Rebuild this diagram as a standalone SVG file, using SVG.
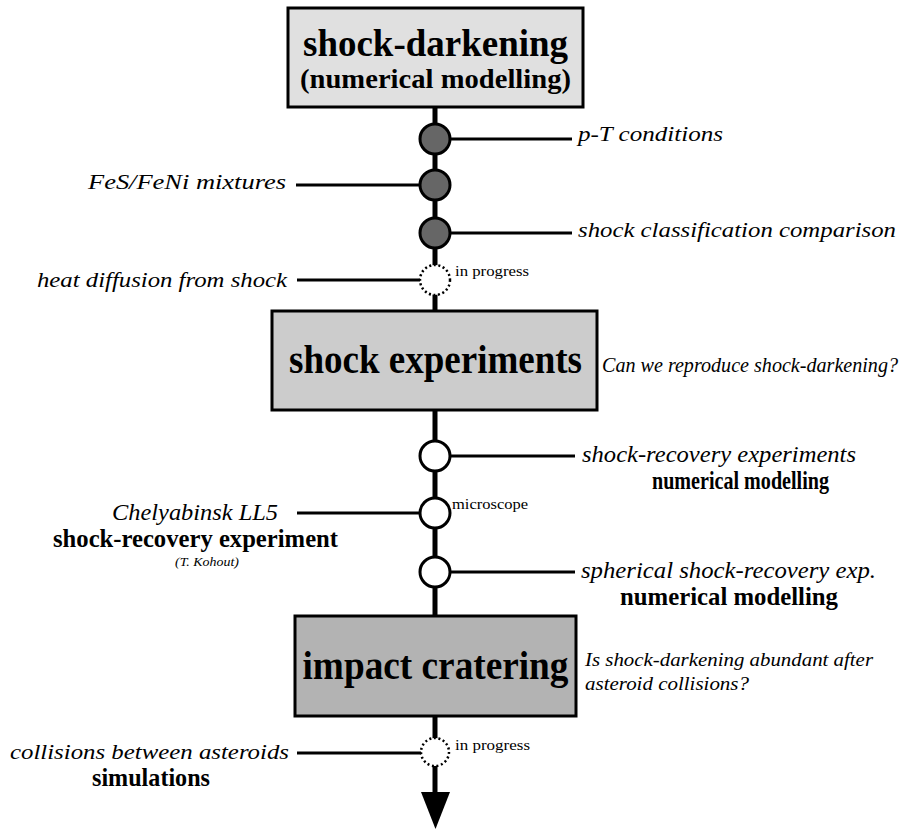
<svg xmlns="http://www.w3.org/2000/svg" width="907" height="830" viewBox="0 0 907 830">
<style>
.box{stroke:#000;stroke-width:3}
.spine{stroke:#000;stroke-width:5;fill:none}
.br{stroke:#000;stroke-width:3;fill:none}
.done{fill:#666;stroke:#000;stroke-width:3}
.open{fill:#fff;stroke:#000;stroke-width:3}
.prog{fill:#fff;stroke:#000;stroke-width:2.5;stroke-dasharray:2 2.6}
text{font-family:"Liberation Serif","Times New Roman",serif;fill:#000}
.t{font-weight:bold;text-anchor:middle}
.it{font-style:italic;font-size:22px}
.b{font-weight:bold;font-size:26px}
.q{font-style:italic;font-size:21px}
.s{font-size:14px}
</style>
<rect width="907" height="830" fill="#fff"/>
<g id="connectors">
<line class="spine" x1="435" y1="107" x2="435" y2="311"/>
<line class="spine" x1="435" y1="410" x2="435" y2="616"/>
<line class="spine" x1="435" y1="716" x2="435" y2="795"/>
<polygon points="421,792 450,792 435.5,829" fill="#000"/>
<line class="br" x1="450" y1="139" x2="572" y2="139"/>
<line class="br" x1="296" y1="185" x2="420" y2="185"/>
<line class="br" x1="450" y1="233" x2="572" y2="233"/>
<line class="br" x1="297" y1="280" x2="420" y2="280"/>
<line class="br" x1="450" y1="456" x2="575" y2="456"/>
<line class="br" x1="297" y1="513" x2="420" y2="513"/>
<line class="br" x1="450" y1="572" x2="575" y2="572"/>
<line class="br" x1="297" y1="753" x2="421" y2="753"/>
</g>
<g id="node-shock-darkening">
<rect class="box" x="288" y="8" width="295" height="99" fill="#e0e0e0"/>
<text class="t" x="435.5" y="56" style="font-size:37px" textLength="265" lengthAdjust="spacingAndGlyphs">shock-darkening</text>
<text class="t" x="435.5" y="88" style="font-size:28px" textLength="271" lengthAdjust="spacingAndGlyphs">(numerical modelling)</text>
</g>
<g id="node-pT">
<circle class="done" cx="435" cy="139" r="15"/>
<text class="it" x="578" y="141" textLength="145" lengthAdjust="spacingAndGlyphs">p-T conditions</text>
</g>
<g id="node-FeS">
<circle class="done" cx="435" cy="185" r="15"/>
<text class="it" x="88" y="189" textLength="198" lengthAdjust="spacingAndGlyphs">FeS/FeNi mixtures</text>
</g>
<g id="node-classification">
<circle class="done" cx="435" cy="233" r="15"/>
<text class="it" x="578" y="237" textLength="318" lengthAdjust="spacingAndGlyphs">shock classification comparison</text>
</g>
<g id="node-heat">
<circle class="prog" cx="435" cy="280" r="15"/>
<text class="it" x="37" y="287" textLength="250" lengthAdjust="spacingAndGlyphs">heat diffusion from shock</text>
<text class="s" x="455" y="276" textLength="74" lengthAdjust="spacingAndGlyphs">in progress</text>
</g>
<g id="node-shock-experiments">
<rect class="box" x="272" y="311" width="325" height="99" fill="#cccccc"/>
<text class="t" x="435.5" y="373" style="font-size:40px" textLength="293" lengthAdjust="spacingAndGlyphs">shock experiments</text>
<text class="q" x="602" y="372" style="font-size:20px" textLength="296" lengthAdjust="spacingAndGlyphs">Can we reproduce shock-darkening?</text>
</g>
<g id="node-recovery">
<circle class="open" cx="435" cy="456" r="15"/>
<text class="it" x="582" y="462" style="font-size:24px" textLength="274" lengthAdjust="spacingAndGlyphs">shock-recovery experiments</text>
<text class="b" x="652" y="489" textLength="177" lengthAdjust="spacingAndGlyphs">numerical modelling</text>
</g>
<g id="node-chelyabinsk">
<circle class="open" cx="435" cy="513" r="15"/>
<text class="it" x="112" y="520" style="font-size:24px" textLength="166" lengthAdjust="spacingAndGlyphs">Chelyabinsk LL5</text>
<text class="b" x="53" y="547" textLength="285" lengthAdjust="spacingAndGlyphs">shock-recovery experiment</text>
<text x="175" y="566" style="font-style:italic;font-size:13px" textLength="64" lengthAdjust="spacingAndGlyphs">(T. Kohout)</text>
<text class="s" x="452" y="509" textLength="76" lengthAdjust="spacingAndGlyphs">microscope</text>
</g>
<g id="node-spherical">
<circle class="open" cx="435" cy="572" r="15"/>
<text class="it" x="581" y="578" style="font-size:24px" textLength="295" lengthAdjust="spacingAndGlyphs">spherical shock-recovery exp.</text>
<text class="b" x="620" y="605" textLength="218" lengthAdjust="spacingAndGlyphs">numerical modelling</text>
</g>
<g id="node-impact">
<rect class="box" x="295" y="616" width="281" height="100" fill="#b3b3b3"/>
<text class="t" x="435.5" y="679" style="font-size:39px" textLength="266" lengthAdjust="spacingAndGlyphs">impact cratering</text>
<text class="q" x="585" y="666" style="font-size:19px" textLength="288" lengthAdjust="spacingAndGlyphs">Is shock-darkening abundant after</text>
<text class="q" x="585" y="690" style="font-size:19px" textLength="164" lengthAdjust="spacingAndGlyphs">asteroid collisions?</text>
</g>
<g id="node-collisions">
<circle class="prog" cx="435" cy="752" r="14"/>
<text class="it" x="10" y="759" textLength="279" lengthAdjust="spacingAndGlyphs">collisions between asteroids</text>
<text class="b" x="92" y="786" style="font-size:25px" textLength="118" lengthAdjust="spacingAndGlyphs">simulations</text>
<text class="s" x="455" y="750" textLength="75" lengthAdjust="spacingAndGlyphs">in progress</text>
</g>
</svg>
